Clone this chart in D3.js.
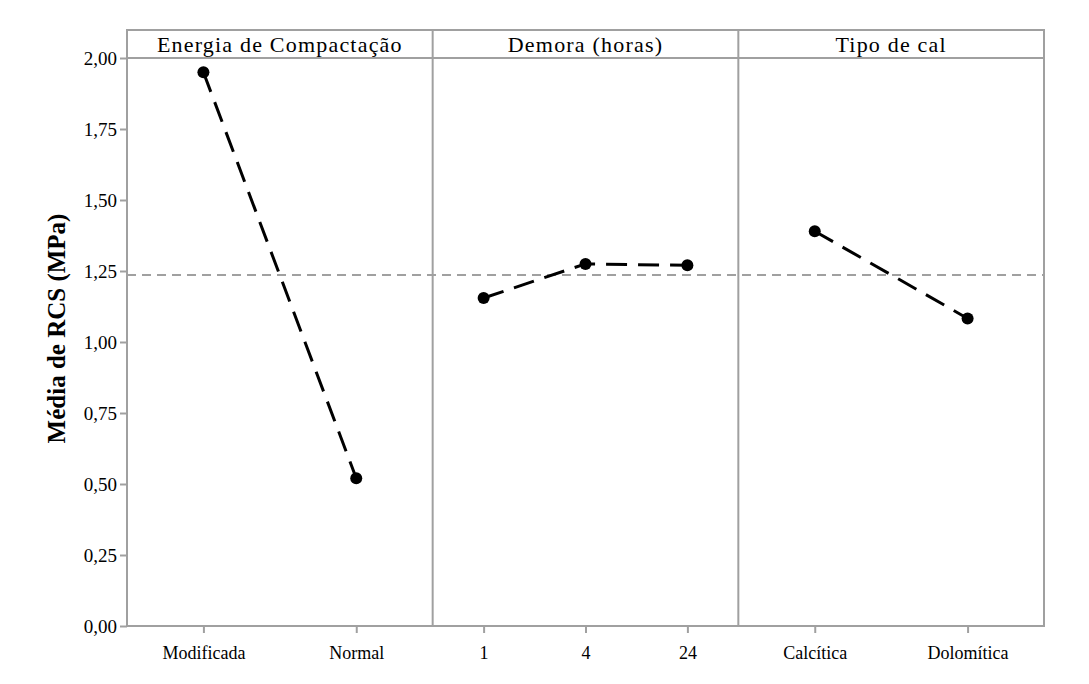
<!DOCTYPE html>
<html>
<head>
<meta charset="utf-8">
<script src="https://cdn.jsdelivr.net/npm/d3@7"></script>
<style>
  html, body { margin: 0; padding: 0; background: #fff; }
  svg { display: block; }
  text { font-family: "Liberation Serif", "DejaVu Serif", serif; fill: #000; }
</style>
</head>
<body>
<svg id="chart" width="1089" height="684"></svg>
<script>
// Factor names (panel headers)
const factors = ["Energia de Compactação", "Demora (horas)", "Tipo de cal"];
// Levels of each factor
const energiaLevels = ["Modificada", "Normal"];
const demoraLevels = ["1", "4", "24"];
const calLevels = ["Calcítica", "Dolomítica"];
// Mean RCS (MPa) at each level
const energiaMeans = [1.95, 0.52];
const demoraMeans = [1.155, 1.275, 1.27];
const calMeans = [1.39, 1.083];
// Grand mean
const grandMean = 1.236;
// Y axis ticks
const yTicks = [0, 0.25, 0.5, 0.75, 1.0, 1.25, 1.5, 1.75, 2.0];

const panels = [
  { name: factors[0], levels: energiaLevels, means: energiaMeans },
  { name: factors[1], levels: demoraLevels, means: demoraMeans },
  { name: factors[2], levels: calLevels, means: calMeans }
];

const svg = d3.select("#chart");
const frameL = 127, frameR = 1044, frameT = 30, headerH = 28, frameB = 626;
const plotTop = frameT + headerH;
const gray = "#a0a0a0";
const serif = "'Liberation Serif', 'DejaVu Serif', serif";

const y = d3.scaleLinear().domain([0, 2]).range([frameB, plotTop]);
const panelX = d3.scaleBand().domain(factors).range([frameL, frameR]);

// Grand mean reference line
svg.append("line")
  .attr("x1", frameL).attr("x2", frameR)
  .attr("y1", y(grandMean)).attr("y2", y(grandMean))
  .attr("stroke", gray).attr("stroke-width", 2)
  .attr("stroke-dasharray", "9,6");

// Panels
panels.forEach(p => {
  const x0 = panelX(p.name), w = panelX.bandwidth();
  const x = d3.scalePoint().domain(p.levels).range([x0, x0 + w]).padding(0.5);
  const g = svg.append("g");

  // header title
  g.append("text")
    .attr("x", x0 + w / 2).attr("y", frameT + 22)
    .attr("text-anchor", "middle")
    .style("font-family", serif)
    .style("font-size", "22px")
    .style("letter-spacing", "1.2px")
    .text(p.name);

  // x axis ticks and labels
  const ax = g.append("g").attr("transform", `translate(0,${frameB})`)
    .call(d3.axisBottom(x).tickSize(7).tickPadding(13));
  ax.select(".domain").remove();
  ax.selectAll(".tick line").attr("stroke", gray).attr("stroke-width", 2);
  ax.selectAll(".tick text").style("font-size", "18px")
    .style("font-family", serif).attr("fill", "#000");

  const data = p.levels.map((l, i) => ({ l, v: p.means[i] }));
  // connecting dashed line
  g.append("path")
    .datum(data)
    .attr("fill", "none").attr("stroke", "#000").attr("stroke-width", 3)
    .attr("stroke-dasharray", "21,11")
    .attr("d", d3.line().x(d => x(d.l)).y(d => y(d.v)));
  // level means
  g.selectAll("circle").data(data).join("circle")
    .attr("cx", d => x(d.l)).attr("cy", d => y(d.v)).attr("r", 6)
    .attr("fill", "#000");
});

// Frame: outer box, header separator, panel dividers
svg.append("rect")
  .attr("x", frameL).attr("y", frameT)
  .attr("width", frameR - frameL).attr("height", frameB - frameT)
  .attr("fill", "none").attr("stroke", gray).attr("stroke-width", 2);
svg.append("line")
  .attr("x1", frameL).attr("x2", frameR)
  .attr("y1", plotTop).attr("y2", plotTop)
  .attr("stroke", gray).attr("stroke-width", 2);
factors.slice(1).forEach(f => {
  svg.append("line")
    .attr("x1", panelX(f)).attr("x2", panelX(f))
    .attr("y1", frameT).attr("y2", frameB)
    .attr("stroke", gray).attr("stroke-width", 2);
});

// Y axis
const yAx = svg.append("g").attr("transform", `translate(${frameL},0)`)
  .call(d3.axisLeft(y).tickValues(yTicks).tickSize(7).tickPadding(3)
    .tickFormat(d => d3.format(".2f")(d).replace(".", ",")));
yAx.select(".domain").remove();
yAx.selectAll(".tick line").attr("stroke", gray).attr("stroke-width", 2);
yAx.selectAll(".tick text").style("font-size", "19px")
  .style("font-family", serif).attr("fill", "#000");

// Y axis title
svg.append("text")
  .attr("transform", `translate(65,${(210 + 447) / 2}) rotate(-90)`)
  .attr("text-anchor", "middle")
  .style("font-family", serif)
  .style("font-size", "25px").style("font-weight", "bold")
  .text("Média de RCS (MPa)");
</script>
</body>
</html>
